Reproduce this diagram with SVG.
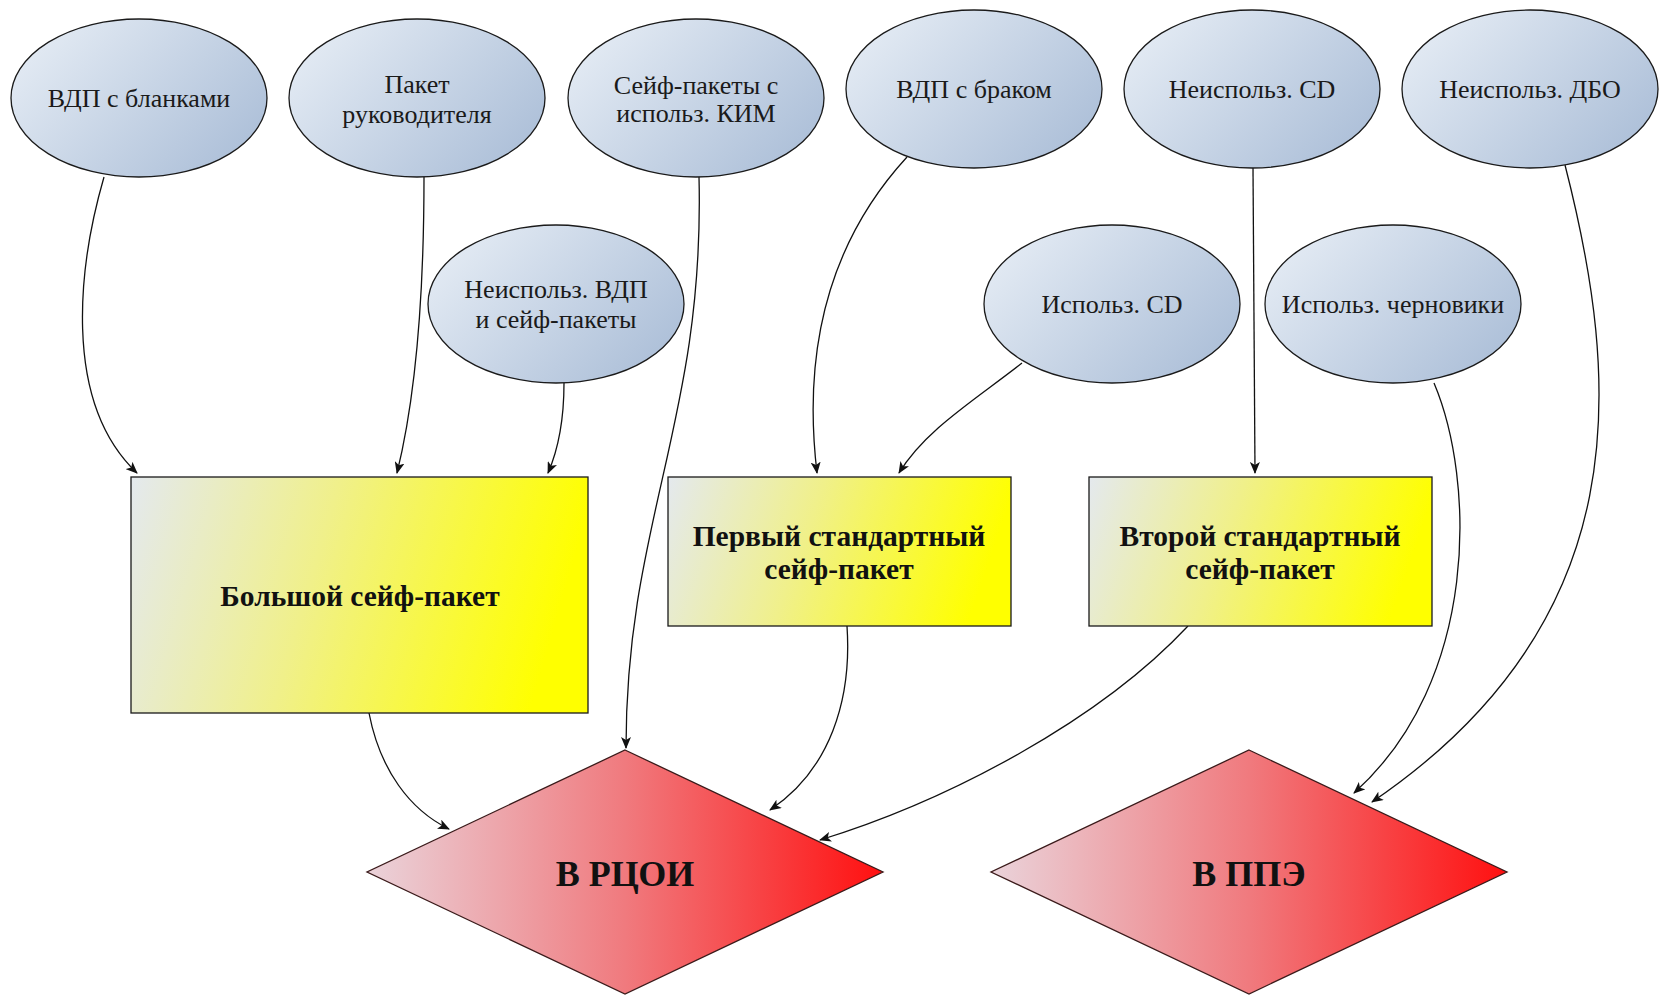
<svg xmlns="http://www.w3.org/2000/svg" width="1659" height="995" viewBox="0 0 1659 995">
<style>
.ell{fill:url(#gE);stroke:#1a1a1a;stroke-width:1.3}
.box{fill:url(#gY);stroke:#1a1a1a;stroke-width:1.3}
.dia{fill:url(#gR);stroke:#3a1a1a;stroke-width:1.3}
.t{font-family:"Liberation Serif","DejaVu Serif",serif;font-size:26px;fill:#1a1a1a;text-anchor:middle;dominant-baseline:central}
.b{font-family:"Liberation Serif","DejaVu Serif",serif;font-size:29.5px;font-weight:bold;fill:#111;text-anchor:middle;dominant-baseline:central}
.big{font-family:"Liberation Serif","DejaVu Serif",serif;font-size:36px;font-weight:bold;fill:#111;text-anchor:middle;dominant-baseline:central}
.c{fill:none;stroke:#111;stroke-width:1.3;marker-end:url(#arr)}
</style>
<defs>
<linearGradient id="gE" x1="0" y1="0" x2="1" y2="0.6">
<stop offset="0" stop-color="#eaf0f7"/><stop offset="1" stop-color="#b0c2da"/>
</linearGradient>
<linearGradient id="gY" x1="0" y1="0" x2="1" y2="0.15">
<stop offset="0" stop-color="#e4e9ee"/><stop offset="0.45" stop-color="#f0f08a"/><stop offset="1" stop-color="#ffff00"/>
</linearGradient>
<linearGradient id="gR" x1="0" y1="0" x2="1" y2="0">
<stop offset="0" stop-color="#ead3da"/><stop offset="0.5" stop-color="#f07a7e"/><stop offset="1" stop-color="#ff1010"/>
</linearGradient>
<marker id="arr" viewBox="0 0 12 10" refX="11" refY="5" markerWidth="12" markerHeight="10" markerUnits="userSpaceOnUse" orient="auto">
<path d="M0,0 L12,5 L0,10 L3,5 z" fill="#111"/>
</marker>
</defs>

<g id="connectors">
<path class="c" d="M104,177 C80,260 60,400 137,473"/>
<path class="c" d="M424,177 C424,300 415,400 397,473"/>
<path class="c" d="M564,383 C564,420 558,450 548,473"/>
<path class="c" d="M699,177 C705,420 626,520 626,748"/>
<path class="c" d="M907,157 C840,230 800,330 817,473"/>
<path class="c" d="M1022,363 C975,400 925,430 899,473"/>
<path class="c" d="M1253,168 L1255,473"/>
<path class="c" d="M369,713 C380,770 410,810 449,829"/>
<path class="c" d="M847,626 C852,700 830,770 770,810"/>
<path class="c" d="M1188,626 C1100,720 950,800 820,840"/>
<path class="c" d="M1434,383 C1475,480 1480,680 1354,793"/>
<path class="c" d="M1565,165 C1620,380 1640,620 1372,802"/>
</g>

<g id="n1"><ellipse class="ell" cx="139" cy="98" rx="128" ry="79"/><text class="t" x="139" y="98">ВДП с бланками</text></g>
<g id="n2"><ellipse class="ell" cx="417" cy="98" rx="128" ry="79"/><text class="t" x="417" y="84">Пакет</text><text class="t" x="417" y="114">руководителя</text></g>
<g id="n3"><ellipse class="ell" cx="696" cy="98" rx="128" ry="79"/><text class="t" x="696" y="85">Сейф-пакеты с</text><text class="t" x="696" y="113">использ. КИМ</text></g>
<g id="n4"><ellipse class="ell" cx="974" cy="89" rx="128" ry="79"/><text class="t" x="974" y="89">ВДП с браком</text></g>
<g id="n5"><ellipse class="ell" cx="1252" cy="89" rx="128" ry="79"/><text class="t" x="1252" y="89">Неиспольз. CD</text></g>
<g id="n6"><ellipse class="ell" cx="1530" cy="89" rx="128" ry="79"/><text class="t" x="1530" y="89">Неиспольз. ДБО</text></g>
<g id="n7"><ellipse class="ell" cx="556" cy="304" rx="128" ry="79"/><text class="t" x="556" y="289">Неиспольз. ВДП</text><text class="t" x="556" y="319">и сейф-пакеты</text></g>
<g id="n8"><ellipse class="ell" cx="1112" cy="304" rx="128" ry="79"/><text class="t" x="1112" y="304">Использ. CD</text></g>
<g id="n9"><ellipse class="ell" cx="1393" cy="304" rx="128" ry="79"/><text class="t" x="1393" y="304">Использ. черновики</text></g>

<g id="r1"><rect class="box" x="131" y="477" width="457" height="236"/><text class="b" x="360" y="596">Большой сейф-пакет</text></g>
<g id="r2"><rect class="box" x="668" y="477" width="343" height="149"/><text class="b" x="839" y="536">Первый стандартный</text><text class="b" x="839" y="569">сейф-пакет</text></g>
<g id="r3"><rect class="box" x="1089" y="477" width="343" height="149"/><text class="b" x="1260" y="536">Второй стандартный</text><text class="b" x="1260" y="569">сейф-пакет</text></g>

<g id="d1"><polygon class="dia" points="625,750 883,872 625,994 367,872"/><text class="big" x="625" y="874">В РЦОИ</text></g>
<g id="d2"><polygon class="dia" points="1249,750 1507,872 1249,994 991,872"/><text class="big" x="1249" y="874">В ППЭ</text></g>
</svg>
